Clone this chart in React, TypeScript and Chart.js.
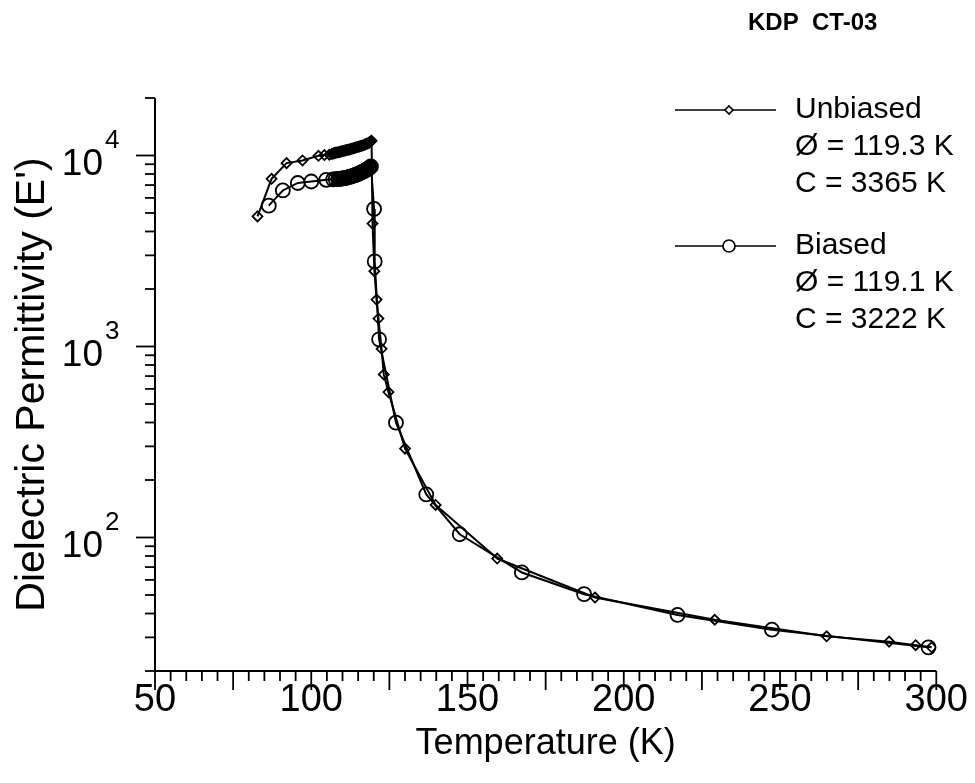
import React, { useEffect, useRef } from 'react';
import { Chart, registerables } from 'chart.js';

Chart.register(...registerables);

const FONT = '"Liberation Sans", Arial, Helvetica, sans-serif';

// Unbiased sample (diamonds)
const unbiasedT = [82.8, 87.3, 92.1, 97.2, 102.3, 104.2, 105.8, 106.6, 107.0, 107.4, 107.8, 108.2, 108.6, 109.0, 109.4, 109.8, 110.2, 110.6, 111.0, 111.4, 111.8, 112.2, 112.6, 113.0, 113.4, 113.8, 114.2, 114.6, 115.0, 115.4, 115.8, 116.2, 116.6, 117.0, 117.4, 117.8, 118.2, 118.5, 118.8, 119.1, 119.3, 119.6, 120.2, 120.9, 121.5, 122.5, 123.2, 124.7, 130.0, 139.8, 159.5, 190.8, 229.1, 264.9, 284.9, 293.4, 298.5];
const unbiasedE = [4800, 7550, 9120, 9420, 9960, 10050, 10100, 10180, 10250, 10290, 10330, 10370, 10400, 10440, 10480, 10520, 10560, 10600, 10640, 10680, 10720, 10760, 10810, 10850, 10900, 10950, 11000, 11050, 11100, 11150, 11200, 11260, 11320, 11380, 11450, 11520, 11600, 11680, 11780, 11870, 11950, 4400, 2480, 1760, 1400, 973, 714, 577, 292, 148, 77.6, 48.5, 37.1, 30.4, 28.5, 27.3, 26.6];

// Biased sample (circles)
const biasedT = [86.4, 90.9, 95.7, 100.0, 104.8, 107.0, 107.8, 108.6, 109.0, 109.4, 109.8, 110.2, 110.6, 111.0, 111.4, 111.8, 112.2, 112.6, 113.0, 113.4, 113.8, 114.2, 114.6, 115.0, 115.4, 115.8, 116.2, 116.6, 117.0, 117.4, 117.8, 118.2, 118.5, 118.8, 119.1, 120.1, 120.3, 121.7, 127.1, 136.8, 147.5, 167.4, 187.3, 217.2, 247.4, 297.5];
const biasedE = [5460, 6560, 7180, 7310, 7460, 7500, 7520, 7535, 7545, 7560, 7575, 7590, 7610, 7630, 7660, 7690, 7720, 7750, 7790, 7830, 7870, 7910, 7960, 8010, 8060, 8120, 8180, 8240, 8310, 8380, 8450, 8530, 8600, 8680, 8760, 5250, 2790, 1090, 399, 168, 104, 65.6, 50.5, 39.3, 32.9, 26.6];

// Axes
const xMin = 50;
const xMax = 300;
const xLabelStep = 50;
const xMajorStep = 25;
const xMinorStep = 5;
const yMin = 20;
const yMax = 20000;
const yDecades = [10, 100, 1000, 10000];
const yLabelBases = ['10', '10', '10'];
const yLabelExps = ['2', '3', '4'];
const yLabelValues = [100, 1000, 10000];

// Texts
const chartTitle = 'KDP  CT-03';
const xTitle = 'Temperature (K)';
const yTitle = "Dielectric Permittivity (E')";
const seriesNames = ['Unbiased', 'Biased'];
const unbiasedNotes = ['Ø = 119.3 K', 'C = 3365 K'];
const biasedNotes = ['Ø = 119.1 K', 'C = 3222 K'];

const decoPlugin = {
  id: 'deco',
  afterDraw(chart: any) {
    const { ctx, chartArea: ca } = chart;
    const x = chart.scales.x;
    const y = chart.scales.y;
    ctx.save();
    ctx.strokeStyle = '#000';
    ctx.fillStyle = '#000';
    ctx.lineWidth = 2;
    ctx.beginPath();
    ctx.moveTo(ca.left, ca.top);
    ctx.lineTo(ca.left, ca.bottom);
    ctx.lineTo(ca.right, ca.bottom);
    ctx.stroke();

    ctx.lineWidth = 1.8;
    for (let t = xMin; t <= xMax + 0.001; t += xMinorStep) {
      const px = x.getPixelForValue(t);
      const len = Math.abs((t - xMin) % xMajorStep) < 0.001 ? 19 : 10;
      ctx.beginPath();
      ctx.moveTo(px, ca.bottom);
      ctx.lineTo(px, ca.bottom + len);
      ctx.stroke();
    }
    for (const d of yDecades) {
      for (let m = 1; m <= 9; m++) {
        const v = m * d;
        if (v < yMin - 0.001 || v > yMax + 0.001) continue;
        const py = y.getPixelForValue(v);
        const len = m === 1 ? 19 : 10;
        ctx.beginPath();
        ctx.moveTo(ca.left, py);
        ctx.lineTo(ca.left - len, py);
        ctx.stroke();
      }
    }

    // y tick labels with superscript exponents
    yLabelValues.forEach((v, i) => {
      const py = y.getPixelForValue(v);
      ctx.font = `37px ${FONT}`;
      ctx.textAlign = 'right';
      ctx.textBaseline = 'alphabetic';
      ctx.fillText(yLabelBases[i], 103, py + 20);
      ctx.font = `26px ${FONT}`;
      ctx.textAlign = 'left';
      ctx.fillText(yLabelExps[i], 105, py - 7);
    });

    // title
    ctx.font = `bold 24px ${FONT}`;
    ctx.textAlign = 'left';
    ctx.textBaseline = 'middle';
    ctx.fillText(chartTitle, 748, 23);

    // legend
    const drawEntry = (yy: number, style: string, name: string, notes: string[]) => {
      ctx.lineWidth = 1.7;
      ctx.beginPath();
      ctx.moveTo(675, yy);
      ctx.lineTo(776, yy);
      ctx.stroke();
      ctx.fillStyle = '#fff';
      ctx.beginPath();
      if (style === 'circle') {
        ctx.arc(729, yy, 6, 0, Math.PI * 2);
      } else {
        ctx.moveTo(729, yy - 4);
        ctx.lineTo(733, yy);
        ctx.lineTo(729, yy + 4);
        ctx.lineTo(725, yy);
        ctx.closePath();
      }
      ctx.fill();
      ctx.stroke();
      ctx.fillStyle = '#000';
      ctx.font = `30px ${FONT}`;
      ctx.textAlign = 'left';
      ctx.textBaseline = 'middle';
      ctx.fillText(name, 795, yy);
      notes.forEach((n, i) => ctx.fillText(n, 795, yy + 37 * (i + 1)));
    };
    drawEntry(110, 'diamond', seriesNames[0], unbiasedNotes);
    drawEntry(246, 'circle', seriesNames[1], biasedNotes);
    ctx.restore();
  },
};

export default function App() {
  const ref = useRef<HTMLCanvasElement | null>(null);
  useEffect(() => {
    if (!ref.current) return;
    const chart = new Chart(ref.current, {
      type: 'scatter',
      data: {
        datasets: [
          {
            label: seriesNames[0],
            data: unbiasedT.map((t, i) => ({ x: t, y: unbiasedE[i] })),
            showLine: true,
            borderColor: '#000',
            borderWidth: 2,
            pointStyle: 'rectRot',
            pointRadius: 5,
            pointBorderWidth: 1.8,
            pointBorderColor: '#000',
            pointBackgroundColor: 'rgba(0,0,0,0)',
            tension: 0,
          },
          {
            label: seriesNames[1],
            data: biasedT.map((t, i) => ({ x: t, y: biasedE[i] })),
            showLine: true,
            borderColor: '#000',
            borderWidth: 2,
            pointStyle: 'circle',
            pointRadius: 7,
            pointBorderWidth: 1.8,
            pointBorderColor: '#000',
            pointBackgroundColor: 'rgba(0,0,0,0)',
            tension: 0,
          },
        ],
      },
      options: {
        animation: false,
        responsive: true,
        maintainAspectRatio: false,
        layout: { padding: { top: 98, right: 36, left: 0, bottom: 0 } },
        plugins: { legend: { display: false }, tooltip: { enabled: false }, title: { display: false } },
        scales: {
          x: {
            type: 'linear',
            min: xMin,
            max: xMax,
            grid: { display: false, drawTicks: false, tickLength: 0 },
            border: { display: false },
            ticks: {
              stepSize: xLabelStep,
              color: '#000',
              font: { family: FONT, size: 38 },
              padding: 7,
              maxRotation: 0,
            },
            title: {
              display: true,
              text: xTitle,
              color: '#000',
              font: { family: FONT, size: 36 },
              padding: { top: 0, bottom: 17 },
            },
            afterFit: (s: any) => { s.height = 112; },
          },
          y: {
            type: 'logarithmic',
            min: yMin,
            max: yMax,
            grid: { display: false, drawTicks: false, tickLength: 0 },
            border: { display: false },
            ticks: { display: false },
            title: {
              display: true,
              text: yTitle,
              color: '#000',
              font: { family: FONT, size: 41 },
              padding: { top: 8, bottom: 0 },
            },
            afterFit: (s: any) => { s.width = 155; },
          },
        },
      },
      plugins: [decoPlugin],
    } as any);
    return () => chart.destroy();
  }, []);
  return (
    <div style={{ position: 'fixed', left: 0, top: 0, width: 975, height: 783, background: '#fff' }}>
      <canvas ref={ref} />
    </div>
  );
}
